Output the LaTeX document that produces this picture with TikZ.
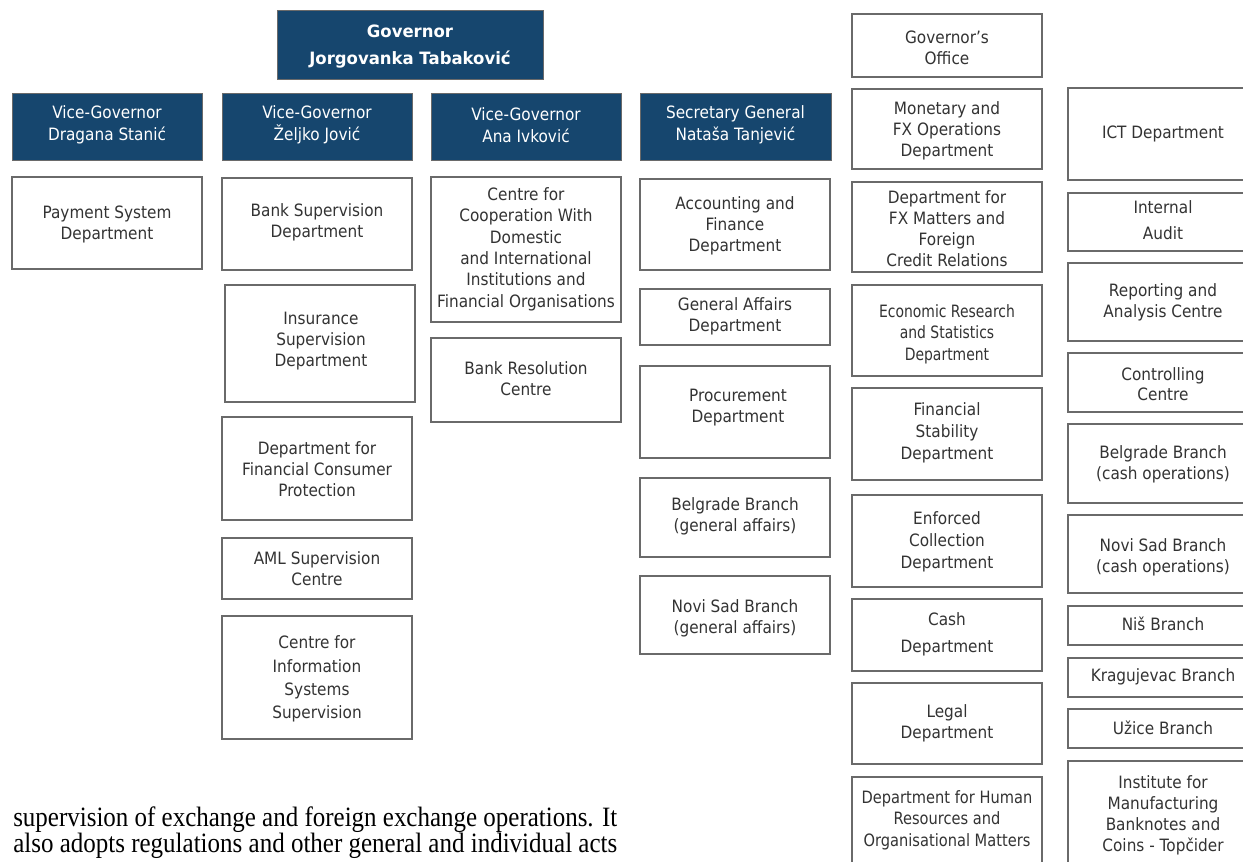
\documentclass[tikz,border=0pt]{standalone}
\usepackage{fontspec}
\usepackage{graphicx}
\setmainfont{DejaVu Sans}[FakeStretch=0.9, BoldFeatures={FakeStretch=0.97}]
\newfontfamily\narrowfont{DejaVu Sans}[FakeStretch=0.82]
\newfontfamily\semifont{DejaVu Sans}[FakeStretch=0.86]
\newfontfamily\parafont{Liberation Serif}

\definecolor{headblue}{HTML}{16466E}
\definecolor{boxline}{HTML}{6A6A6A}
\definecolor{unittext}{HTML}{333333}

% one line of body text, stretched to a given width (in pt)
\newcommand\fitline[2]{%
  \setbox0\hbox{#2}%
  \pgfmathsetmacro\fitfactor{#1/\wd0}%
  \scalebox{\fitfactor}[1]{\box0}}

% a box from (x1,y1) to (x2,y2), pixel-like units
% #1 style, #2 name, #3 x1, #4 y1, #5 x2, #6 y2
\newcommand\orgbox[6][frame]{%
  \node[#1, minimum width={(#5-#3)*0.75pt}, minimum height={(#6-#4)*0.75pt}]
    (#2) at ({(#3+#5)/2},{(#4+#6)/2}) {};}

\tikzset{
  frame/.style={draw=boxline, line width=0.85pt, fill=white, inner sep=0pt, outer sep=0pt},
  head/.style={draw=boxline, line width=0.7pt, fill=headblue, inner sep=0pt, outer sep=0pt},
  unit/.style={text=unittext, align=center, inner sep=0pt,
    font=\fontsize{12.75}{15.75}\selectfont},
  headtext/.style={text=white, align=center, inner sep=0pt,
    font=\fontsize{12.75}{16.5}\selectfont},
  paraline/.style={anchor=base west, inner sep=0pt, text=black,
    font=\parafont\fontsize{21}{21}\selectfont},
}

\begin{document}
\begin{tikzpicture}[x=0.75pt, y=-0.75pt]
\useasboundingbox (0,0) rectangle (1243,862);
\clip (0,0) rectangle (1243,862);

% ---- management ----
\orgbox[head]{gov}{277}{10}{543}{79}
\node[headtext, font=\bfseries\fontsize{12.75}{20.25}\selectfont] (gov-t) at (410,46.5)
  {Governor\\Jorgovanka Tabaković};
\orgbox[head]{vg1}{12}{93}{202}{160}
\node[headtext] (vg1-t) at (107,125) {Vice-Governor\\Dragana Stanić};
\orgbox[head]{vg2}{222}{93}{412}{160}
\node[headtext] (vg2-t) at (317,125) {Vice-Governor\\Željko Jović};
\orgbox[head]{vg3}{431}{93}{621}{160}
\node[headtext] (vg3-t) at (526,125) {Vice-Governor\\Ana Ivković};
\orgbox[head]{sg}{640}{93}{831}{160}
\node[headtext] (sg-t) at (735.5,125) {Secretary General\\Nataša Tanjević};

% ---- column 1 ----
\orgbox{pay}{12}{177}{202}{269}
\node[unit] (pay-t) at (107,224) {Payment System\\Department};

% ---- column 2 ----
\orgbox{bsup}{222}{178}{412}{270}
\node[unit] (bsup-t) at (317,222) {Bank Supervision\\Department};
\orgbox{ins}{225}{285}{415}{402}
\node[unit] (ins-t) at (321,341) {Insurance\\Supervision\\Department};
\orgbox{fcp}{222}{417}{412}{520}
\node[unit] (fcp-t) at (317,469) {Department for\\Financial Consumer\\Protection};
\orgbox{aml}{222}{538}{412}{599}
\node[unit] (aml-t) at (317,569) {AML Supervision\\Centre};
\orgbox{cis}{222}{616}{412}{739}
\node[unit, font=\fontsize{12.75}{17.5}\selectfont] (cis-t) at (317,679)
  {Centre for\\Information\\Systems\\Supervision};

% ---- column 3 ----
\orgbox{coop}{431}{177}{621}{322}
\node[unit, font=\fontsize{12.75}{16}\selectfont] (coop-t) at (526,249)
  {Centre for\\Cooperation With\\Domestic\\and International\\Institutions and\\Financial Organisations};
\orgbox{bres}{431}{338}{621}{422}
\node[unit] (bres-t) at (526,379) {Bank Resolution\\Centre};

% ---- column 4 ----
\orgbox{acc}{640}{179}{830}{270}
\node[unit] (acc-t) at (735,226) {Accounting and\\Finance\\Department};
\orgbox{gaff}{640}{289}{830}{345}
\node[unit] (gaff-t) at (735,316.5) {General Affairs\\Department};
\orgbox{proc}{640}{366}{830}{458}
\node[unit] (proc-t) at (738,408) {Procurement\\Department};
\orgbox{bgga}{640}{478}{830}{557}
\node[unit] (bgga-t) at (735,516.5) {Belgrade Branch\\(general affairs)};
\orgbox{nsga}{640}{576}{830}{654}
\node[unit] (nsga-t) at (735,618.5) {Novi Sad Branch\\(general affairs)};

% ---- column 5 ----
\orgbox{gof}{852}{14}{1042}{77}
\node[unit] (gof-t) at (947,47.5) {Governor’s\\Office};
\orgbox{mon}{852}{89}{1042}{169}
\node[unit] (mon-t) at (947,131) {Monetary and\\FX Operations\\Department};
\orgbox{fx}{852}{182}{1042}{272}
\node[unit] (fx-t) at (947,229) {Department for\\FX Matters and\\Foreign\\Credit Relations};
\orgbox{eco}{852}{285}{1042}{376}
\node[unit, font=\narrowfont\fontsize{12.75}{16}\selectfont] (eco-t) at (947,334)
  {Economic Research\\and Statistics\\Department};
\orgbox{fin}{852}{388}{1042}{480}
\node[unit, font=\fontsize{12.75}{16.5}\selectfont] (fin-t) at (947,433)
  {Financial\\Stability\\Department};
\orgbox{enf}{852}{495}{1042}{587}
\node[unit, font=\fontsize{12.75}{16.5}\selectfont] (enf-t) at (947,542)
  {Enforced\\Collection\\Department};
\orgbox{cash}{852}{599}{1042}{671}
\node[unit, font=\fontsize{12.75}{20.25}\selectfont] (cash-t) at (947,634.5) {Cash\\Department};
\orgbox{legal}{852}{683}{1042}{764}
\node[unit] (legal-t) at (947,723.5) {Legal\\Department};
\orgbox{hr}{852}{777}{1042}{880}
\node[unit, font=\semifont\fontsize{12.75}{16}\selectfont] (hr-t) at (947,820)
  {Department for Human\\Resources and\\Organisational Matters};

% ---- column 6 ----
\orgbox{ict}{1068}{88}{1258}{180}
\node[unit] (ict-t) at (1163,134) {ICT Department};
\orgbox{audit}{1068}{193}{1258}{251}
\node[unit, font=\fontsize{12.75}{19}\selectfont] (audit-t) at (1163,220) {Internal\\Audit};
\orgbox{rep}{1068}{263}{1258}{341}
\node[unit] (rep-t) at (1163,302) {Reporting and\\Analysis Centre};
\orgbox{ctrl}{1068}{353}{1258}{412}
\node[unit, font=\fontsize{12.75}{15}\selectfont] (ctrl-t) at (1163,384) {Controlling\\Centre};
\orgbox{bgcash}{1068}{424}{1258}{503}
\node[unit] (bgcash-t) at (1163,464.5) {Belgrade Branch\\(cash operations)};
\orgbox{nscash}{1068}{515}{1258}{593}
\node[unit] (nscash-t) at (1163,557) {Novi Sad Branch\\(cash operations)};
\orgbox{nis}{1068}{606}{1258}{645}
\node[unit] (nis-t) at (1163,624) {Niš Branch};
\orgbox{krag}{1068}{658}{1258}{697}
\node[unit] (krag-t) at (1163,677) {Kragujevac Branch};
\orgbox{uzice}{1068}{709}{1258}{748}
\node[unit] (uzice-t) at (1163,728) {Užice Branch};
\orgbox{inst}{1068}{761}{1258}{880}
\node[unit] (inst-t) at (1163,815) {Institute for\\Manufacturing\\Banknotes and\\Coins - Topčider};

% ---- running text below the chart ----
\node[paraline] (para1) at (13,826)
  {\fitline{453}{supervision of exchange and foreign exchange operations. It}};
\node[paraline] (para2) at (13,852)
  {\fitline{453}{also adopts regulations and other general and individual acts}};
\end{tikzpicture}
\end{document}
